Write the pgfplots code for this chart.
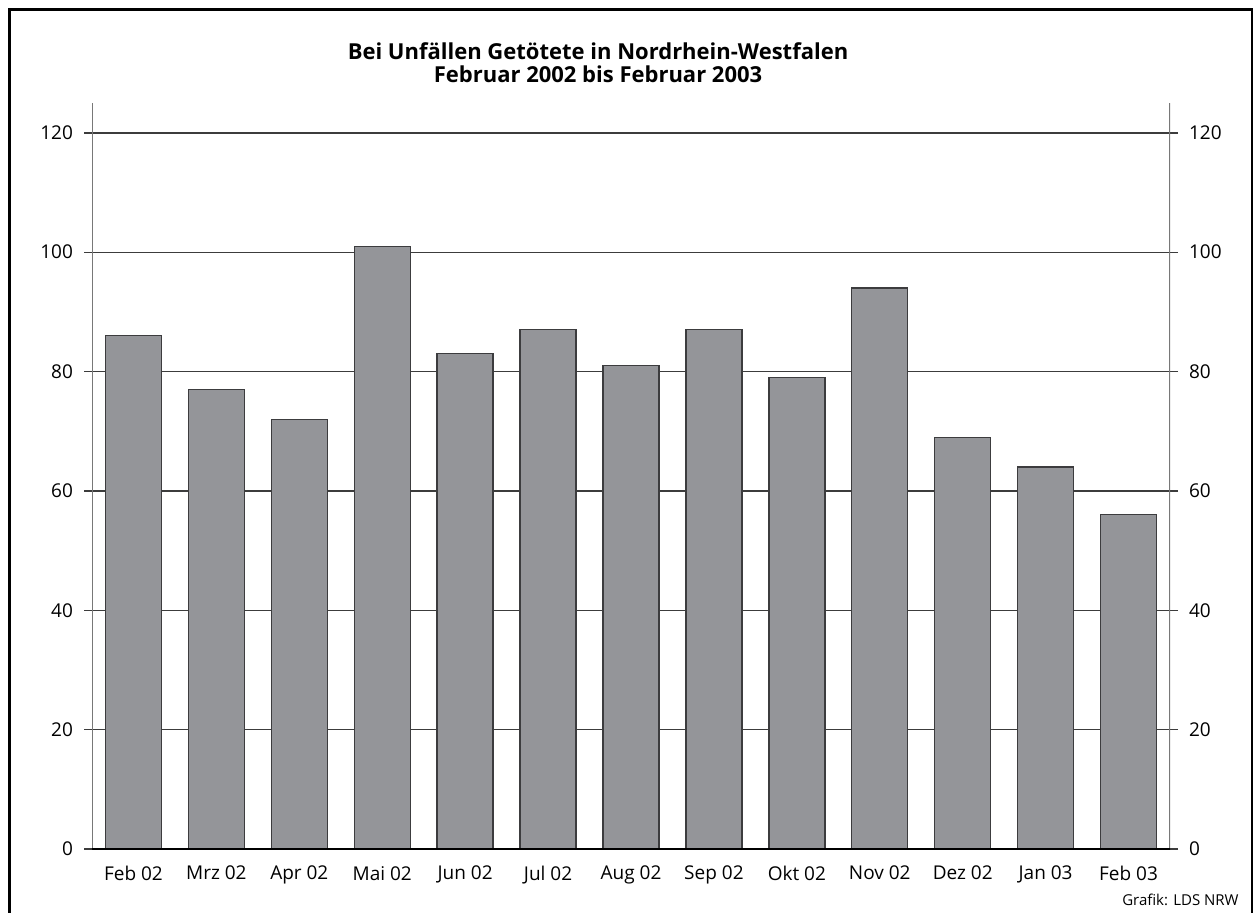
\documentclass[border=0pt]{standalone}
\usepackage{fontspec}
\setmainfont{Open Sans}
\usepackage{pgfplots}
\pgfplotsset{compat=1.18}
\definecolor{barfill}{RGB}{148,149,153}
\definecolor{baredge}{RGB}{60,60,62}
\definecolor{gridc}{RGB}{60,60,60}
\definecolor{axc}{RGB}{120,120,120}
\begin{document}
\begin{tikzpicture}
\begin{axis}[name=ax, scale only axis, width=539pt, height=373pt,
  xmin=-0.5, xmax=12.5, ymin=0, ymax=125,
  axis line style={draw=none},
  xtick={0,...,12},
  xticklabels={Feb 02,Mrz 02,Apr 02,Mai 02,Jun 02,Jul 02,Aug 02,Sep 02,Okt 02,Nov 02,Dez 02,Jan 03,Feb 03},
  xtick style={draw=none},
  ytick={0,20,...,120},
  ytick pos=both, yticklabel pos=left,
  tick align=outside, major tick length=4pt,
  ytick style={gridc, line width=0.7pt},
  ymajorgrids, grid style={gridc, line width=0.7pt},
  /pgf/number format/assume math mode=true,
  tick label style={font=\fontsize{9.5}{11}\selectfont},
  yticklabel style={xshift=-2pt},
  xticklabel style={yshift=-1pt},
  ybar, bar width=28pt,
]
\draw[axc, line width=0.8pt] (axis cs:-0.5,0) -- (axis cs:-0.5,125);
\draw[axc, line width=0.8pt] (axis cs:12.5,0) -- (axis cs:12.5,125);
\addplot[fill=barfill, draw=baredge, line width=0.7pt] coordinates {
(0,86) (1,77) (2,72) (3,101) (4,83) (5,87) (6,81) (7,87) (8,79) (9,94) (10,69) (11,64) (12,56)};
\draw[black, line width=0.9pt] ([xshift=-4pt]axis cs:-0.5,0) -- ([xshift=4pt]axis cs:12.5,0);
\end{axis}
\begin{axis}[scale only axis, width=539pt, height=373pt,
  xmin=-0.5, xmax=12.5, ymin=0, ymax=125,
  axis line style={draw=none},
  xtick=\empty,
  ytick={0,20,...,120},
  ytick pos=right, yticklabel pos=right,
  tick align=outside, major tick length=4pt,
  ytick style={draw=none},
  /pgf/number format/assume math mode=true,
  tick label style={font=\fontsize{9.5}{11}\selectfont},
  yticklabel style={xshift=2pt},
]
\end{axis}
\node[align=center, font=\bfseries\fontsize{11}{11.5}\selectfont] at ([xshift=-16.5pt, yshift=20.25pt]ax.north) {Bei Unfällen Getötete in Nordrhein-Westfalen\\Februar 2002 bis Februar 2003};
\node[anchor=east, font=\fontsize{7.5}{9}\selectfont, inner sep=0pt] at ([xshift=34.5pt,yshift=-25.5pt]ax.south east) {Grafik: LDS NRW};
\draw[line width=1.3pt] ([xshift=-41.25pt,yshift=-34pt]ax.south west) rectangle ([xshift=41pt,yshift=46.75pt]ax.north east);
\pgfresetboundingbox
\useasboundingbox ([xshift=-46pt, yshift=-31.5pt]ax.south west) rectangle ([xshift=43pt, yshift=51.5pt]ax.north east);
\end{tikzpicture}
\end{document}
